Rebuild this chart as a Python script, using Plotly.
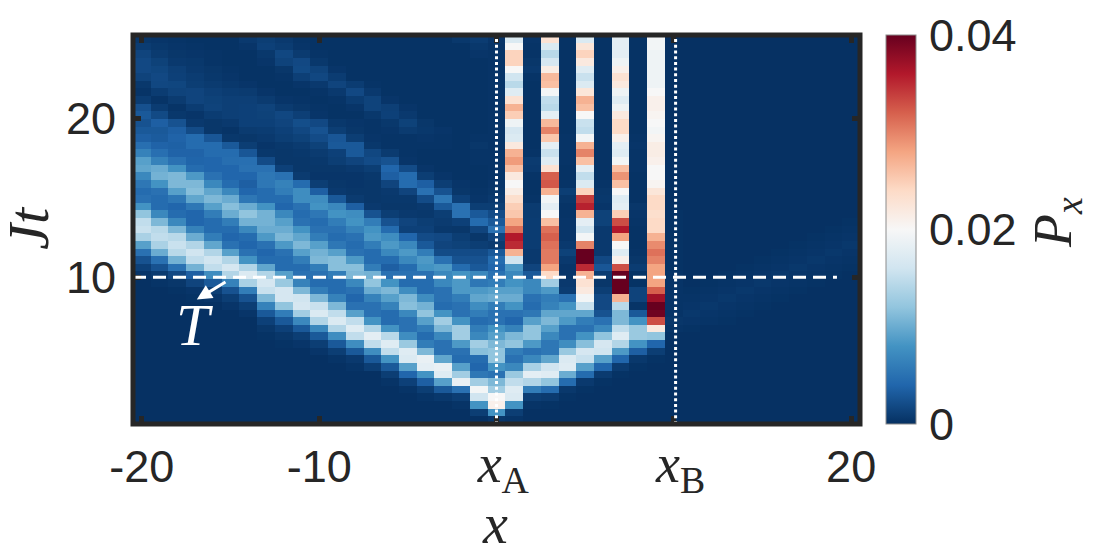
import plotly.graph_objects as go
import numpy as np

# Values are P_x in units of 0.001
sites = list(range(-20, 21))
times = [25.0, 24.52, 24.04, 23.56, 23.08, 22.6, 22.12, 21.64, 21.16, 20.68, 20.2, 19.72, 19.24, 18.76, 18.28, 17.8, 17.32,
         16.84, 16.36, 15.88, 15.4, 14.92, 14.44, 13.96, 13.48, 13.0, 12.52, 12.04, 11.56, 11.08, 10.6, 10.12, 9.64, 9.16,
         8.68, 8.2, 7.72, 7.24, 6.76, 6.28, 5.8, 5.32, 4.84, 4.36, 3.88, 3.4, 2.92, 2.44, 1.96, 1.48, 1.0]

# rows for x = -20 ... -1, from the latest time to the earliest
left_rows = [
 [.5,.4,.3,.2,.2,.2,.7,1,.7,.3,.2,.2,.2,.2,.2,.2,.2,.2,.6,.9],
 [.9,.6,.4,.3,.2,.2,.4,1.2,.9,.4,.2,.2,.2,.2,.2,.2,.2,.2,.2,.6],
 [1.5,.8,.5,.4,.3,.2,.2,.6,1.7,.8,.3,.2,.2,.2,.2,.2,.2,.2,.2,.4],
 [1.8,1.3,.7,.6,.3,.2,.2,.4,1.4,1.8,.6,.2,.2,.2,.2,.2,.2,.2,.2,.2],
 [1.8,1.6,1.1,.7,.5,.3,.2,.2,.5,1.9,1.4,.4,.2,.2,.2,.2,.2,.2,.2,.2],
 [1.4,1.8,1.2,.9,.6,.4,.2,.2,.3,1.1,1.7,.9,.2,.2,.2,.2,.2,.2,.2,.2],
 [.6,1.7,1.6,1,.8,.6,.4,.2,.2,.4,.7,1.5,.9,.3,.2,.2,.2,.2,.2,.2],
 [.3,.9,1.4,1.5,1.1,.9,.8,.4,.2,.2,.3,.7,1.8,.7,.2,.2,.2,.2,.2,.2],
 [.9,.3,.8,1.5,1.3,1.1,1.1,.8,.4,.3,.2,.3,.9,1.4,.4,.2,.2,.2,.2,.2],
 [2.4,.9,.3,.9,1.4,1.1,1.2,1.4,.8,.5,.3,.2,.4,1.4,1.1,.4,.2,.2,.2,.2],
 [3,1.9,.6,.4,.9,1.1,1.2,1.3,1.7,1.1,.4,.2,.2,.6,1.2,.7,.2,.2,.2,.2],
 [2.5,3.5,2.5,.7,.5,.7,1.2,1.2,1.5,2.2,1.8,.6,.4,.3,.6,1.3,.5,.2,.2,.2],
 [3,3,3.5,2,.5,.3,.8,.9,1.2,1.7,2.5,1,.5,.3,.4,.8,.6,.4,.2,.2],
 [3.5,3.2,3.8,4.5,2.8,.6,.5,.7,1,1.3,2,2.8,1,.4,.3,.3,.4,.3,.2,.3],
 [4.8,3.8,3.6,4.5,4.5,3,1,.4,.6,.8,1.3,3,3,.6,.3,.3,.3,.3,.2,.5],
 [6.5,4.8,3.8,3.8,4.5,4.5,2.8,.6,.5,.6,.8,1.2,3,1.7,.8,.3,.2,.2,.2,.3],
 [9,6.5,5,3.9,4,4.7,4.8,2,.5,.5,.6,1,1.5,2,2.5,.4,.2,.2,.2,.3],
 [9.5,10,8,4.5,4,4,5,5,1.2,.5,.5,.5,.7,1,4,2,.4,.2,.2,.2],
 [7,10.5,11,8.5,5,4,4,5.5,5,.8,.4,.4,.4,.6,3.5,4.5,1,.4,.2,.2],
 [5.5,8,11,11,7,4.5,3.5,5.5,6.5,4.5,1,.5,.4,.5,1.5,4.5,3.5,1,.4,.2],
 [4.5,5,9,11.5,9.5,7,4,4.5,6,7.5,3.5,.7,.5,.5,.7,1.5,5,2.5,.5,.3],
 [5,4.5,5.5,9.5,11,10,5.5,4.5,4.5,7.5,7.5,3,.8,.5,.6,.6,2,5.5,1.2,.4],
 [8,4.5,4,5.5,9,11.5,10,8,4,5,8,7,3.5,.7,.5,.5,.7,3,5,1],
 [12,7,4.5,4,6,10,12,10.5,7,4.5,5.5,8,7.5,2.5,1,.7,.6,1,5,3],
 [15,11,7,4,4.5,6,10.5,10.5,9,5,4.5,6,8,6,2.5,1.5,1,.8,1.2,4.5],
 [15.5,14.5,11,6.5,4.5,4.5,7,10,10,8,5,5,6.5,8,4.5,1.2,1.2,.6,.5,1.5],
 [13.5,15,14.5,10,6,4,4.5,8.5,11,9.5,6,4.5,5,8.5,7.5,4,2,1.8,1,.5],
 [9,13.5,15.5,14,9.5,5,4,5,8.5,11,9,5.5,4.5,6,8.5,7,3,1.5,1.3,1],
 [5,10,14.5,16,14,9,5,4,5,9,10.5,9,5,4.5,7,8.5,6,2,2,2],
 [2.5,5,10.5,15,16,14,8,4.5,4.5,6,11,11.5,8.5,4.5,4.5,7,8.5,5,2.5,2.5],
 [1.2,2.5,5,10.5,15,16.5,14,9.5,4.5,4.5,6,11.5,11.5,6,3.5,4.5,8,8.5,4.5,3],
 [.4,.8,1.8,3.5,7.5,14,17,14,9,5,5,6,11,10.5,5,5,5,7,8,7],
 [.1,.3,.5,1.5,3,6.5,13.5,16.5,12.5,6.5,4.5,4.5,7,12,8,4.5,4.5,7,8.5,5.5],
 [.1,.1,.2,.4,1,2.5,6,15.5,16.5,11,6,4.5,5,10,11,7.5,4.5,5,8.5,8.5],
 [.1,.1,.1,.2,.4,1,2.5,11,16.5,16,11,6.5,4,6.5,9,11,7.5,5,6,9.5],
 [.1,.1,.1,.1,.1,.4,1,6.5,12,16.5,15.5,11,5,5,6.5,11.5,10.5,4.5,5,7.5],
 [.1,.1,.1,.1,.1,.1,.4,3,6,13,17,15,9,5,4.5,7,12,8,5,6],
 [.1,.1,.1,.1,.1,.1,.1,1.2,3,7,14,17,15,8,4.5,5,9,13,8,4.5],
 [.1,.1,.1,.1,.1,.1,.1,.5,1.2,3,7,14,17.5,14,8,5,6,11,13,6],
 [.1,.1,.1,.1,.1,.1,.1,.2,.5,1,3,7.5,15,18,14.5,7.5,4.5,7,13,7],
 [.1,.1,.1,.1,.1,.1,.1,.1,.2,.4,1,3,7.5,15,17.5,12.5,6,5,8.5,13],
 [.1,.1,.1,.1,.1,.1,.1,.1,.1,.1,.4,1,3,7.5,15,17.5,11,5,5,11.5],
 [.1,.1,.1,.1,.1,.1,.1,.1,.1,.1,.1,.3,.7,3,8,17,18.5,9.5,4.5,4.5],
 [.1,.1,.1,.1,.1,.1,.1,.1,.1,.1,.1,.1,.3,1,3,9,18,18.5,9,4],
 [.1,.1,.1,.1,.1,.1,.1,.1,.1,.1,.1,.1,.1,.1,1,4,8,17.5,13,5.5],
 [.1,.1,.1,.1,.1,.1,.1,.1,.1,.1,.1,.1,.1,.1,.3,1.2,3.5,9,18.5,13],
 [.1,.1,.1,.1,.1,.1,.1,.1,.1,.1,.1,.1,.1,.1,.1,.3,1,3,5,19.5],
 [.1,.1,.1,.1,.1,.1,.1,.1,.1,.1,.1,.1,.1,.1,.1,.1,.3,.6,1,16],
 [.1,.1,.1,.1,.1,.1,.1,.1,.1,.1,.1,.1,.1,.1,.1,.1,.1,.1,.3,8],
 [.1,.1,.1,.1,.1,.1,.1,.1,.1,.1,.1,.1,.1,.1,.1,.1,.1,.1,.1,1],
 [.1,.1,.1,.1,.1,.1,.1,.1,.1,.1,.1,.1,.1,.1,.1,.1,.1,.1,.1,.1],
]

# columns for x = 0 ... 10, from the latest time to the earliest
col_x0 = [.4,.3,.3,.3,.3,.3,.3,.3,.3,.3,.3,.3,.3,.3,.3,.3,.3,.3,.3,.4,.5,.7,1,2,3,5,1.5,.8,3,4.5,4,5,6,9,10,6,5,5,8,9,11,12,12,8,5,11,13,20,21,8,.5]
col_x1 = [17,20,24.5,24.5,20,16,14.5,17.5,23,27,25,19,16.5,17,22,27,28.5,26,22,20,21.5,23.5,25,25.5,28,31,36,35,27,16,8.5,7,8,9,10,8,5,4,6.5,11,12,6,5,7,12.5,15,17.5,17,8,1,.3]
col_x2 = [.4,.3,.3,.5,.7,.3,.2,.2,.2,.2,.2,.2,.2,.2,.2,.3,.8,.7,.3,.2,.2,.3,.8,.8,.9,.9,.9,.9,.7,.7,1.5,3,7,7,5,4.5,5.5,9,12,12,8.5,5,7,13.5,18,14,6,1,.3,.1,.1]
col_x3 = [23,17,14.5,16.5,21.5,26.5,26,19.5,15,14.5,18,26.5,30,25.5,18,15.5,17.5,23,32,32.5,27,19.5,18,20,26,31,32,31,30.5,30.5,28,24,13,8.5,6,6.5,9.5,11,9,7,5.5,5.5,9.5,16,17.5,12,4.5,.8,.2,.1,.1]
col_x4 = [.2,.2,.2,.2,.2,.2,.2,.2,.2,.2,.2,.2,.2,.3,.3,.3,.3,.2,.2,.3,1,.5,.3,.3,.4,.4,.4,.7,1.3,.7,.4,.4,.7,.9,5,8,9.5,8.5,5,5,7.5,12.5,17,17.5,10,4.5,.6,.2,.1,.1,.1]
col_x5 = [17,22.5,24.5,22,17.5,15.5,17,22.5,27,26,20,15.5,15,19.5,27,30,26,18,15,17,24.5,34,35.5,27,18,16,19.5,30,40,40,35,27,23,22,19.5,15.5,9.5,6,5,8,11.5,16.5,15.5,9,4.5,.7,.2,.1,.1,.1,.1]
col_x6 = [.2,.2,.2,.2,.2,.2,.2,.2,.2,.2,.2,.2,.2,.2,.2,.2,.2,.2,.2,.3,.5,.6,.4,1.3,1.3,.7,.7,.7,.7,1.8,2.8,.9,.5,1,1.8,1.8,2.5,5,7,12,16.5,16,9,4,.8,.2,.1,.1,.1,.1,.1]
col_x7 = [18,18,18,19,21,23,22,19,17.5,19,22,24,24,21,18,17.5,19.5,26,29,26,20,17.5,18,25,33,36,28,20,17.5,21,33,40,40,40,27,14.5,11,11,15,17.5,14,8.5,4,.8,.2,.1,.1,.1,.1,.1,.1]
col_x8 = [.2,.2,.2,.2,.2,.2,.2,.2,.2,.2,.2,.2,.2,.3,.4,.3,.3,.3,.2,.2,.2,.2,.5,.4,.3,.2,.2,.2,.3,.5,.9,.2,.2,1.4,1.4,.3,3,8,12.5,12.5,8,3.5,.6,.2,.1,.1,.1,.1,.1,.1,.1]
col_x9 = [19.5,19.5,19,19,19,19,19,20,21,21,20.5,20,19.5,20.5,21.5,21.5,21,20,20,20.5,22.5,24,24,23.5,24,24,27,29.5,31,30,28,28,28,32,37,40,39.5,33,22,12,4,1,.2,.1,.1,.1,.1,.1,.1,.1,.1]
col_x10 = [.1,.1,.1,.1,.1,.1,.1,.1,.1,.1,.1,.1,.1,.1,.1,.1,.1,.1,.1,.1,.1,.1,.1,.2,.2,.2,.2,.2,.2,.2,.2,.3,.3,.3,.3,.3,.3,.5,.3,.1,.1,.1,.1,.1,.1,.1,.1,.1,.1,.1,.1]

# rows for x = 11 ... 20 at the same times
right_rows = [
 [.1,.1,.1,.1,.1,.1,.1,.1,.1,.1],[.1,.1,.1,.1,.1,.1,.1,.1,.1,.1],[.1,.1,.1,.1,.1,.1,.1,.1,.1,.1],
 [.1,.1,.1,.1,.1,.1,.1,.1,.1,.1],[.1,.1,.1,.1,.1,.1,.1,.1,.1,.1],[.1,.1,.1,.1,.1,.1,.1,.1,.1,.1],
 [.1,.1,.1,.1,.1,.1,.1,.1,.1,.1],[.1,.1,.1,.1,.1,.1,.1,.1,.1,.1],[.1,.1,.1,.1,.1,.1,.1,.1,.1,.1],
 [.1,.1,.1,.1,.1,.1,.1,.1,.1,.1],[.1,.1,.1,.1,.1,.1,.1,.1,.1,.1],[.1,.1,.1,.1,.1,.1,.1,.1,.1,.1],
 [.1,.1,.1,.1,.1,.1,.1,.1,.1,.1],[.1,.1,.1,.1,.1,.1,.1,.1,.1,.1],[.1,.1,.1,.1,.1,.1,.1,.1,.1,.1],
 [.1,.1,.1,.1,.1,.1,.1,.1,.1,.1],[.1,.1,.1,.1,.1,.1,.1,.1,.1,.1],[.1,.1,.1,.1,.1,.1,.1,.1,.1,.1],
 [.1,.1,.1,.1,.1,.1,.1,.1,.1,.1],[.1,.1,.1,.1,.1,.1,.1,.1,.1,.1],[.1,.1,.1,.1,.1,.1,.1,.1,.1,.1],
 [.1,.1,.1,.1,.1,.1,.1,.1,.1,.1],[.1,.1,.1,.1,.1,.1,.1,.1,.1,.1],[.1,.1,.1,.1,.1,.1,.1,.1,.1,.1],
 [.1,.1,.1,.1,.1,.1,.1,.1,.1,.2],[.1,.1,.1,.1,.1,.1,.1,.1,.2,.3],[.1,.1,.1,.1,.1,.1,.1,.2,.3,.4],
 [.1,.1,.1,.1,.1,.1,.2,.3,.4,.6],[.1,.1,.1,.1,.1,.2,.3,.4,.6,.4],[.1,.1,.1,.1,.2,.3,.4,.6,.4,.3],
 [.1,.1,.1,.2,.3,.4,.6,.4,.3,.2],[.1,.1,.2,.3,.4,.6,.4,.3,.2,.1],[.1,.2,.3,.4,.6,.4,.3,.2,.1,.1],
 [.2,.3,.4,.6,.4,.3,.2,.1,.1,.1],[.3,.4,.6,.4,.3,.2,.1,.1,.1,.1],[.4,.6,.4,.3,.2,.1,.1,.1,.1,.1],
 [.6,.4,.3,.2,.1,.1,.1,.1,.1,.1],[.4,.3,.2,.1,.1,.1,.1,.1,.1,.1],[.2,.1,.1,.1,.1,.1,.1,.1,.1,.1],
 [.1,.1,.1,.1,.1,.1,.1,.1,.1,.1],[.1,.1,.1,.1,.1,.1,.1,.1,.1,.1],[.1,.1,.1,.1,.1,.1,.1,.1,.1,.1],
 [.1,.1,.1,.1,.1,.1,.1,.1,.1,.1],[.1,.1,.1,.1,.1,.1,.1,.1,.1,.1],[.1,.1,.1,.1,.1,.1,.1,.1,.1,.1],
 [.1,.1,.1,.1,.1,.1,.1,.1,.1,.1],[.1,.1,.1,.1,.1,.1,.1,.1,.1,.1],[.1,.1,.1,.1,.1,.1,.1,.1,.1,.1],
 [.1,.1,.1,.1,.1,.1,.1,.1,.1,.1],[.1,.1,.1,.1,.1,.1,.1,.1,.1,.1],[.1,.1,.1,.1,.1,.1,.1,.1,.1,.1],
]

SERIF_SPAN = '<span style="font-family:\'Liberation Serif\';font-size:54px">\u00a0%s</span>'
x_tick_vals = [-20, -10, 0, 10, 20]
x_tick_text = ["-20", "-10", SERIF_SPAN % "<i>x</i><sub>A</sub>", SERIF_SPAN % "<i>x</i><sub>B</sub>", "20"]
y_tick_vals = [10, 20]
cbar_vals = [0, 0.02, 0.04]
cbar_text = ["0", "0.02", "0.04"]
colors = ["#053061", "#2166ac", "#4393c3", "#92c5de", "#d1e5f0", "#f7f7f7",
          "#fddbc7", "#f4a582", "#d6604d", "#b2182b", "#67001f"]

mid_cols = [col_x0, col_x1, col_x2, col_x3, col_x4, col_x5, col_x6, col_x7, col_x8, col_x9, col_x10]
for c in mid_cols:
    assert len(c) == len(times), len(c)
assert len(left_rows) == len(times) and len(right_rows) == len(times)
assert all(len(r) == 20 for r in left_rows)
z = np.hstack([np.array(left_rows), np.array(mid_cols).T, np.array(right_rows)]) * 0.001

INK = "#262626"
SANS = "Liberation Sans"
SERIF = "Liberation Serif"
L, R, T, B = 132.5, 860, 34.5, 424
W, H = 1113, 557
px_x = lambda p: (p - L) / (R - L)
px_y = lambda p: (B - p) / (B - T)

fig = go.Figure(go.Heatmap(
    x=sites, y=times, z=z, zmin=0, zmax=0.04,
    colorscale=[[i / 10, c] for i, c in enumerate(colors)],
    colorbar=dict(
        xref="paper", x=px_x(886), xanchor="left", xpad=0,
        yref="paper", y=0, yanchor="bottom", ypad=0, len=1, lenmode="fraction",
        thickness=30, thicknessmode="pixels",
        tickmode="array", tickvals=cbar_vals, ticktext=cbar_text,
        ticks="outside", ticklen=4, tickcolor="white", tickwidth=1,
        tickfont=dict(family=SANS, size=45, color=INK),
        outlinecolor="#8c8c8c", outlinewidth=1,
    ),
    hoverinfo="skip",
))

fig.update_xaxes(range=[-20.5, 20.5], tickmode="array", tickvals=x_tick_vals, ticktext=x_tick_text,
                 ticks="inside", ticklen=8, tickwidth=5, tickcolor=INK, showgrid=False, zeroline=False,
                 mirror="ticks", showline=True, linewidth=1, linecolor=INK, ticklabelstandoff=3,
                 tickfont=dict(family=SANS, size=45, color=INK), tickangle=0)
fig.update_yaxes(range=[0.76, 25.24], tickmode="array", tickvals=y_tick_vals,
                 ticks="inside", ticklen=8, tickwidth=5, tickcolor=INK, showgrid=False, zeroline=False,
                 mirror="ticks", showline=True, linewidth=1, linecolor=INK, ticklabelstandoff=7,
                 tickfont=dict(family=SANS, size=45, color=INK))

def text(x, y, s, size, angle=0, xref="paper", yref="paper", color=INK):
    fig.add_annotation(x=x, y=y, xref=xref, yref=yref, text=s, showarrow=False, textangle=angle,
                       xanchor="center", yanchor="middle",
                       font=dict(family=SERIF, size=size, color=color))

text(px_x(495), px_y(524), "<i>x</i>", 56)
text(px_x(28), px_y(228), "<i>Jt</i>", 58, angle=-90)
text(px_x(1056), px_y(222), "<i>P<sub>x</sub></i>", 54, angle=-90)
text(px_x(194), px_y(325), "<i>T</i>", 60, color="white")
fig.add_annotation(x=-16.9, y=8.6, ax=-15.2, ay=9.75, xref="x", yref="y", axref="x", ayref="y",
                   text="", showarrow=True, arrowhead=2, arrowsize=1, arrowwidth=3, arrowcolor="white")

fig.update_layout(
    width=W, height=H, margin=dict(l=L, r=W - R, t=T, b=H - B, pad=0),
    paper_bgcolor="white", plot_bgcolor="white", showlegend=False,
    shapes=[
        dict(type="line", xref="x", yref="y", x0=-20.5, x1=19.2, y0=10, y1=10,
             line=dict(color="white", width=3, dash="13px,7px")),
        dict(type="line", xref="x", yref="y", x0=0, x1=0, y0=0.76, y1=25.24,
             line=dict(color="white", width=3, dash="3px,2.7px")),
        dict(type="line", xref="x", yref="y", x0=10.1, x1=10.1, y0=0.76, y1=25.24,
             line=dict(color="white", width=3, dash="3px,2.7px")),
        dict(type="rect", xref="paper", yref="paper", x0=0, x1=1, y0=0, y1=1,
             line=dict(color=INK, width=5), fillcolor="rgba(0,0,0,0)"),
        dict(type="line", xref="paper", yref="paper", x0=px_x(912), x1=px_x(916), y0=0.5, y1=0.5,
             line=dict(color=INK, width=1)),
    ],
)

fig.write_html("out.html", config={"displayModeBar": False},
               post_script="document.body.style.margin='0';")
